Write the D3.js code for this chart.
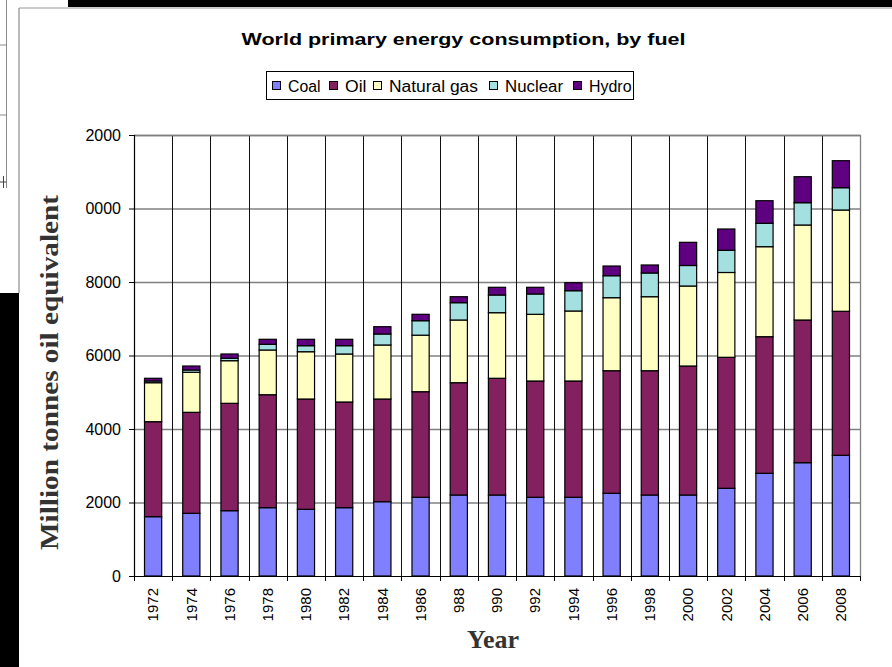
<!DOCTYPE html>
<html><head><meta charset="utf-8">
<script src="https://cdn.jsdelivr.net/npm/d3@7/dist/d3.min.js"></script>
<style>body{margin:0;background:#fff}svg{display:block}</style>
</head><body>
<svg id="c" width="892" height="667"></svg>
<script>
const years = ["1972","1974","1976","1978","1980","1982","1984","1986","1988","1990","1992","1994","1996","1998","2000","2002","2004","2006","2008"];
const yearLabels = ["1972","1974","1976","1978","1980","1982","1984","1986","988","990","992","1994","1996","1998","2000","2002","2004","2006","2008"];
const fuels = ["Coal","Oil","Natural gas","Nuclear","Hydro"];
const coal    = [1614,1706,1777,1859,1815,1859,2022,2142,2204,2204,2142,2142,2250,2204,2204,2386,2795,3083,3284];
const oil     = [2585,2748,2922,3074,3001,2876,2794,2873,3056,3176,3164,3164,3336,3382,3510,3565,3717,3883,3919];
const gas     = [1061,1089,1160,1217,1287,1306,1470,1538,1706,1785,1815,1905,1987,2014,2177,2308,2449,2585,2756];
const nuclear = [46,62,65,155,164,226,299,394,471,481,553,552,598,645,558,604,636,607,607];
const hydro   = [74,109,117,136,174,174,199,174,163,210,182,218,264,218,631,579,615,707,735];
const yTickValues = [0,2000,4000,6000,8000,10000,12000];
const yTickLabels = ["0","2000","4000","6000","8000","0000","2000"];
const colors = ["#8080ff","#832060","#ffffc4","#a4e0e0","#5e0080"];

const series = [coal, oil, gas, nuclear, hydro];
const rows = years.map((yr,i)=>{const r={year:yr}; fuels.forEach((f,k)=>r[f]=series[k][i]); return r;});

const svg = d3.select("#c");
const L=134, R=860, T=135, B=576;
const x = d3.scaleBand().domain(years).range([L,R]).padding(0);
const y = d3.scaleLinear().domain([0,12000]).range([B,T]);
const barW = x.bandwidth()*0.45;

// page decorations (cropped screenshot frame)
svg.append("rect").attr("x",68).attr("y",0).attr("width",824).attr("height",7).attr("fill","#000");
svg.append("line").attr("x1",19).attr("x2",892).attr("y1",8).attr("y2",8).attr("stroke","#9a9a9a").attr("stroke-width",1.2);
svg.append("line").attr("x1",19).attr("x2",19).attr("y1",8).attr("y2",293).attr("stroke","#8a8a8a").attr("stroke-width",1.2);
svg.append("rect").attr("x",0).attr("y",293).attr("width",19).attr("height",374).attr("fill","#000");
svg.append("line").attr("x1",6.5).attr("x2",6.5).attr("y1",0).attr("y2",188).attr("stroke","#8a8a8a");
[45,115].forEach(v=>svg.append("line").attr("x1",0).attr("x2",6.5).attr("y1",v).attr("y2",v).attr("stroke","#8a8a8a"));
svg.append("line").attr("x1",0).attr("x2",6.5).attr("y1",182).attr("y2",182).attr("stroke","#444");
svg.append("line").attr("x1",3.5).attr("x2",3.5).attr("y1",176).attr("y2",188).attr("stroke","#444");

// horizontal gridlines
svg.append("g").selectAll("line").data(yTickValues.slice(1)).join("line")
  .attr("x1",L).attr("x2",R).attr("y1",d=>y(d)+0.5).attr("y2",d=>y(d)+0.5)
  .attr("stroke","#808080").attr("stroke-width",1.3);
// vertical gridlines at category boundaries
const bounds = years.map(d=>x(d)).concat([R]);
svg.append("g").selectAll("line").data(bounds.slice(1,-1)).join("line")
  .attr("x1",d=>Math.round(d)+0.5).attr("x2",d=>Math.round(d)+0.5).attr("y1",T).attr("y2",B)
  .attr("stroke","#111").attr("stroke-width",1);
// plot area border (top/right)
svg.append("path").attr("d",`M${L},${T+0.5}H${R+0.5}V${B}`).attr("fill","none").attr("stroke","#808080").attr("stroke-width",1.3);

// stacked bars
const stack = d3.stack().keys(fuels)(rows);
svg.append("g").selectAll("g").data(stack).join("g").attr("fill",(d,i)=>colors[i])
  .selectAll("rect").data(d=>d).join("rect")
  .attr("x",d=>x(d.data.year)+(x.bandwidth()-barW)/2)
  .attr("width",barW)
  .attr("y",d=>y(d[1]))
  .attr("height",d=>Math.max(0,y(d[0])-y(d[1])))
  .attr("stroke","#000").attr("stroke-width",1.2);

// y axis
const yAxis = svg.append("g").attr("transform",`translate(${L},0)`)
  .call(d3.axisLeft(y).tickValues(yTickValues).tickFormat((d,i)=>yTickLabels[i]).tickSize(5).tickPadding(8));
yAxis.select(".domain").attr("stroke","#000").attr("stroke-width",1.2);
yAxis.selectAll(".tick line").attr("stroke","#000");
yAxis.selectAll("text").attr("font-family","Liberation Sans, Arial, sans-serif").attr("font-size",16).attr("fill","#000");

// x axis
const xAxis = svg.append("g").attr("transform",`translate(0,${B})`)
  .call(d3.axisBottom(x).tickSize(0).tickFormat((d,i)=>yearLabels[i]));
xAxis.select(".domain").attr("stroke","#000").attr("stroke-width",1.2);
xAxis.selectAll("text").attr("font-family","Liberation Sans, Arial, sans-serif").attr("font-size",15).attr("fill","#000")
  .attr("transform","rotate(-90)").attr("text-anchor","end").attr("x",-12).attr("y",0).attr("dy","0.35em");
svg.append("g").selectAll("line").data(bounds).join("line")
  .attr("x1",d=>Math.round(d)+0.5).attr("x2",d=>Math.round(d)+0.5).attr("y1",B).attr("y2",B+5).attr("stroke","#000");

// title
svg.append("text").attr("x",241.5).attr("y",45)
  .attr("font-family","Liberation Sans, Arial, sans-serif").attr("font-weight","bold").attr("font-size",16.5)
  .attr("textLength",444).attr("lengthAdjust","spacingAndGlyphs")
  .text("World primary energy consumption, by fuel");

// legend
const lg = svg.append("g");
lg.append("rect").attr("x",266.5).attr("y",71.5).attr("width",367).attr("height",28).attr("fill","#fff").attr("stroke","#000");
const legTx = [288,345,389,505,589];
const legW  = [32.5,21.5,89,58,42.5];
fuels.forEach((f,i)=>{
  lg.append("rect").attr("x",legTx[i]-15.5).attr("y",81.5).attr("width",8).attr("height",8).attr("fill",colors[i]).attr("stroke","#000");
  lg.append("text").attr("x",legTx[i]).attr("y",91.5).attr("font-family","Liberation Sans, Arial, sans-serif").attr("font-size",16)
    .attr("textLength",legW[i]).attr("lengthAdjust","spacingAndGlyphs").text(f);
});

// axis titles
svg.append("text").attr("transform","translate(58,372.5) rotate(-90)").attr("text-anchor","middle")
  .attr("font-family","Liberation Serif, Times New Roman, serif").attr("font-weight","bold").attr("font-size",26)
  .attr("fill","#333").attr("textLength",355).attr("lengthAdjust","spacingAndGlyphs")
  .text("Million tonnes oil equivalent");
svg.append("text").attr("x",493).attr("y",648).attr("text-anchor","middle")
  .attr("font-family","Liberation Serif, Times New Roman, serif").attr("font-weight","bold").attr("font-size",26)
  .attr("fill","#333").text("Year");
</script>
</body></html>
